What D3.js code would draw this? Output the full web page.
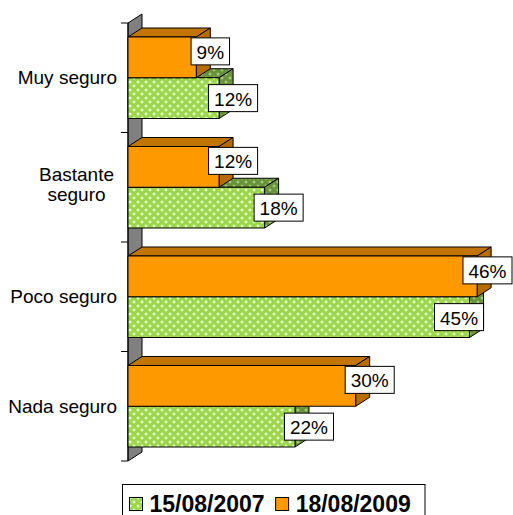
<!DOCTYPE html>
<html>
<head>
<meta charset="utf-8">
<script src="https://cdn.jsdelivr.net/npm/d3@7"></script>
<style>
  html, body { margin: 0; padding: 0; background: #fff; }
  svg { display: block; font-family: Arial, "Liberation Sans", sans-serif; }
</style>
</head>
<body>
<svg id="chart" width="513" height="515"></svg>
<script>
// Survey data: perceived safety, two survey dates
const categories = ["Muy seguro", "Bastante seguro", "Poco seguro", "Nada seguro"];
const seriesNames = ["15/08/2007", "18/08/2009"];
const values2007 = [12, 18, 45, 22];
const values2009 = [9, 12, 46, 30];
const axisMax = 50;

const W = 513, H = 515;
const depthX = 14, depthY = -9;          // 3D extrusion offset
const plotLeft = 128, plotTop = 23, plotBottom = 461;

const svg = d3.select("#chart");
const defs = svg.append("defs");

// Lattice fill for the 2007 series (front faces and shaded faces)
function lattice(id, bg, fg, hi) {
  const p = defs.append("pattern").attr("id", id)
    .attr("patternUnits", "userSpaceOnUse").attr("width", 8).attr("height", 8);
  p.append("rect").attr("width", 8).attr("height", 8).attr("fill", bg);
  [[2, 2], [6, 6]].forEach(([cx, cy]) => {
    p.append("rect").attr("x", cx - 2.5).attr("y", cy - 0.5).attr("width", 5).attr("height", 1).attr("fill", fg);
    p.append("rect").attr("x", cx - 0.5).attr("y", cy - 2.5).attr("width", 1).attr("height", 5).attr("fill", fg);
    p.append("rect").attr("x", cx - 1).attr("y", cy - 1).attr("width", 2).attr("height", 2).attr("fill", hi);
  });
  return `url(#${id})`;
}
const greenFront = lattice("greenFront", "#9ad645", "#c8f29a", "#eaffd6");
const greenShade = lattice("greenShade", "#67923a", "#89b35a", "#a6c97c");

const styles = {
  "15/08/2007": { front: greenFront, top: greenShade, side: greenShade },
  "18/08/2009": { front: "#ff9900", top: "#c27400", side: "#b56c00" }
};
const seriesValues = { "15/08/2007": values2007, "18/08/2009": values2009 };
const topSeries = seriesNames[seriesNames.length - 1];

const x = d3.scaleLinear().domain([0, axisMax]).range([plotLeft, 507.5]);
const y = d3.scaleBand().domain(categories).range([plotTop, plotBottom])
  .paddingInner(0.2557).paddingOuter(0.2557 / 2);
// later series sits on top inside each category band
const ySub = d3.scaleBand().domain(seriesNames.slice().reverse()).range([0, y.bandwidth()]);

// Back wall at the zero value
const wallPts = [[plotLeft, plotTop], [plotLeft + depthX, plotTop + depthY],
                 [plotLeft + depthX, plotBottom + depthY], [plotLeft, plotBottom]];
svg.append("polygon").attr("points", wallPts.map(p => p.join(",")).join(" "))
  .attr("fill", "#808080").attr("stroke", "#000").attr("stroke-width", 1);

// Category axis line and tick marks
svg.append("line").attr("x1", plotLeft).attr("x2", plotLeft)
  .attr("y1", plotTop).attr("y2", plotBottom).attr("stroke", "#000");
const step = y.step();
d3.range(categories.length + 1).forEach(i => {
  const ty = plotTop + i * step;
  svg.append("line").attr("x1", plotLeft - 7).attr("x2", plotLeft)
    .attr("y1", ty).attr("y2", ty).attr("stroke", "#000");
});

// 3D bars: earlier series drawn first so the later one overlaps it
const bars = svg.append("g");
const labelsLayer = svg.append("g");
categories.forEach((cat, ci) => {
  seriesNames.forEach(s => {
    const v = seriesValues[s][ci];
    const x0 = x(0), e = x(v);
    const y0 = y(cat) + ySub(s), y1 = y0 + ySub.bandwidth();
    const st = styles[s];
    const g = bars.append("g").attr("stroke", "#000").attr("stroke-width", 1).attr("stroke-linejoin", "round");
    g.append("polygon").attr("points",
      [[x0, y0], [x0 + depthX, y0 + depthY], [e + depthX, y0 + depthY], [e, y0]].map(p => p.join(",")).join(" "))
      .attr("fill", st.top);
    g.append("polygon").attr("points",
      [[e, y0], [e + depthX, y0 + depthY], [e + depthX, y1 + depthY], [e, y1]].map(p => p.join(",")).join(" "))
      .attr("fill", st.side);
    g.append("rect").attr("x", x0).attr("y", y0).attr("width", e - x0).attr("height", y1 - y0)
      .attr("fill", st.front);

    // value label in a boxed callout at the bar end
    const lg = labelsLayer.append("g");
    const t = lg.append("text").text(v + "%").attr("font-size", 19).attr("fill", "#000")
      .attr("text-anchor", "middle").attr("dominant-baseline", "central");
    const tw = t.node().getComputedTextLength();
    const bw = tw + 11, bh = 27;
    let cx = e + depthX;
    const cy = (y0 + y1) / 2 + (s === topSeries ? -6 : 0);
    if (s === topSeries) {
      if (cx + bw / 2 > W - 1) cx = W - 1 - bw / 2;
    } else if (cx + bw / 2 > x(axisMax)) {
      // no room past the plot end: tuck the box inside the bar end
      cx = e + depthX - bw / 2;
    }
    lg.insert("rect", "text").attr("x", cx - bw / 2).attr("y", cy - bh / 2)
      .attr("width", bw).attr("height", bh).attr("fill", "#fff").attr("stroke", "#000");
    t.attr("x", cx).attr("y", cy + 1);
  });
});

// Category labels, wrapped when too wide
const catLayer = svg.append("g").attr("font-size", 19).attr("fill", "#000");
categories.forEach(cat => {
  const cy = y(cat) + y.bandwidth() / 2;
  const probe = catLayer.append("text").text(cat);
  const full = probe.node().getComputedTextLength();
  probe.remove();
  const lines = full > 112 ? cat.split(" ") : [cat];
  const lh = 20;
  const txt = catLayer.append("text").attr("dominant-baseline", "central");
  if (lines.length === 1) {
    txt.attr("text-anchor", "end").attr("x", 117).attr("y", cy).text(cat);
  } else {
    const widths = lines.map(l => {
      const p = catLayer.append("text").text(l);
      const w = p.node().getComputedTextLength(); p.remove(); return w;
    });
    const cx = 114 - d3.max(widths) / 2;
    txt.attr("text-anchor", "middle");
    lines.forEach((l, i) => {
      txt.append("tspan").attr("x", cx)
        .attr("y", cy - 3 + (i - (lines.length - 1) / 2) * lh).text(l);
    });
  }
});

// Legend
const legend = svg.append("g");
legend.append("rect").attr("x", 122.5).attr("y", 484.5).attr("width", 302.5).attr("height", 40)
  .attr("fill", "#fff").attr("stroke", "#000");
let lx = 129.5;
seriesNames.forEach(s => {
  legend.append("rect").attr("x", lx).attr("y", 497.5).attr("width", 13).attr("height", 13)
    .attr("fill", styles[s].front).attr("stroke", "#000");
  const t = legend.append("text").attr("x", lx + 20).attr("y", 511.5)
    .attr("font-size", 23).attr("font-weight", "bold").attr("fill", "#000").text(s);
  lx += 20 + t.node().getComputedTextLength() + 11;
});
</script>
</body>
</html>
